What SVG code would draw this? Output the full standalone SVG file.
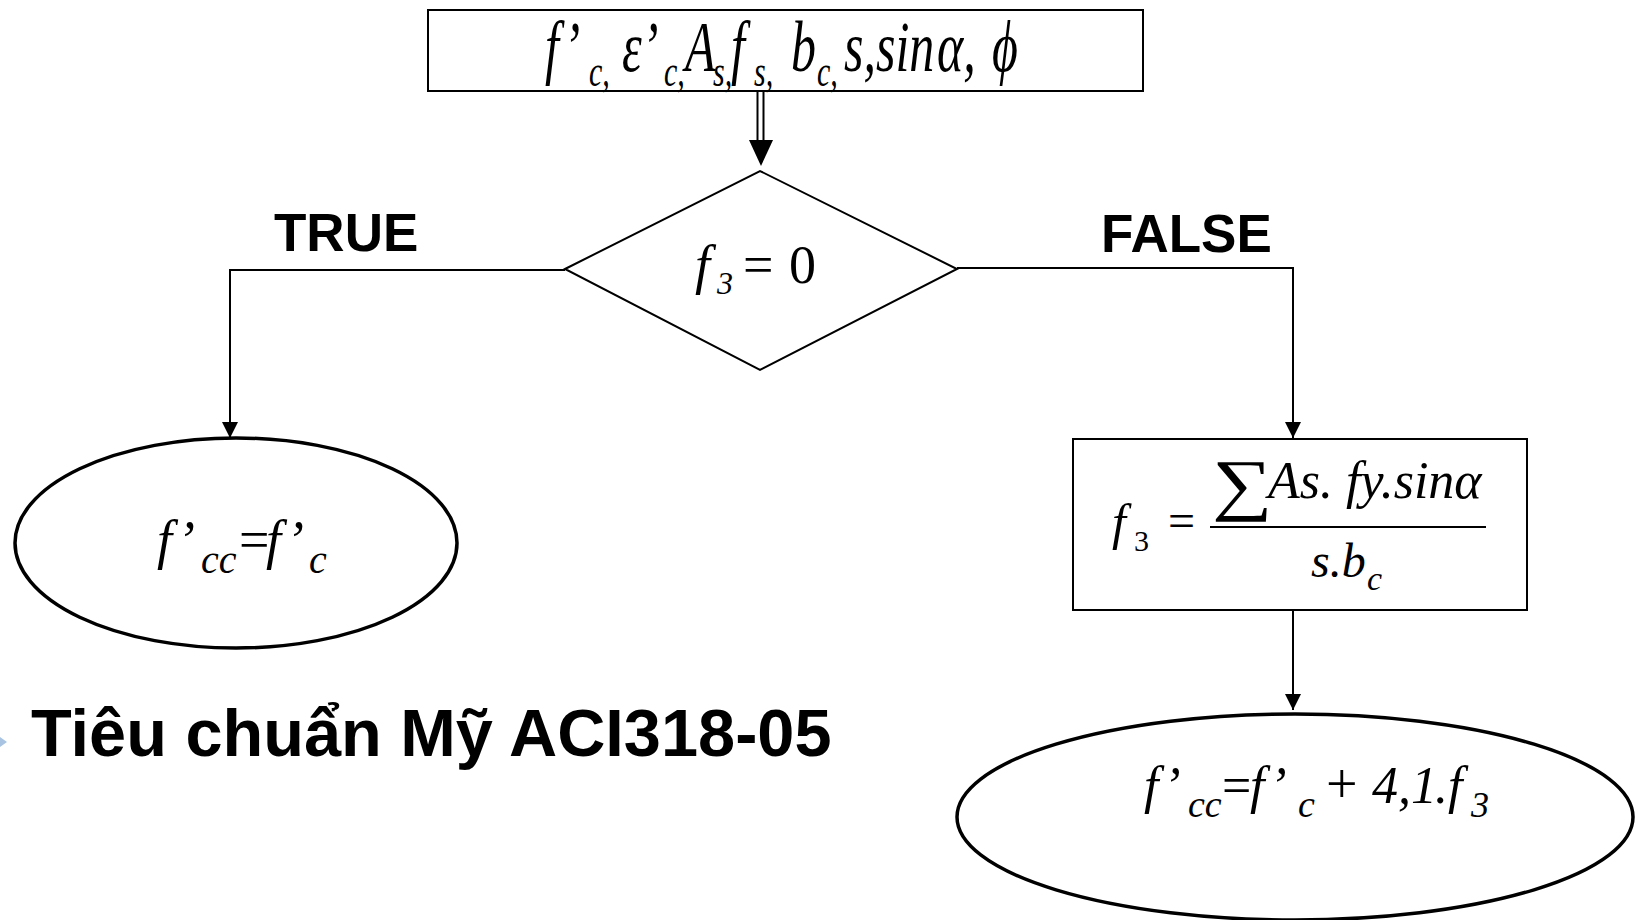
<svg xmlns="http://www.w3.org/2000/svg" width="1638" height="920" viewBox="0 0 1638 920">
  <style>
    .shape { fill: #ffffff; stroke: #000000; stroke-width: 2; }
    .oval { fill: #ffffff; stroke: #000000; stroke-width: 3.5; }
    .wire { fill: none; stroke: #000000; stroke-width: 2; }
    .math { font-family: "Liberation Serif", "Times New Roman", "DejaVu Serif", serif; font-style: italic; fill: #000000; }
    .rm { font-style: normal; }
    .label { font-family: "Liberation Sans", Arial, sans-serif; font-weight: bold; fill: #000000; }
  </style>
  <defs>
    <marker id="arrow" markerUnits="userSpaceOnUse" markerWidth="18" markerHeight="16" refX="16" refY="8" orient="auto">
      <path d="M0,0 L16,8 L0,16 Z" fill="#000000"/>
    </marker>
  </defs>

  <rect width="1638" height="920" fill="#ffffff"/>

  <!-- connectors -->
  <g id="connectors">
    <line x1="757.5" y1="91" x2="757.5" y2="142" class="wire"/>
    <line x1="763.5" y1="91" x2="763.5" y2="142" class="wire"/>
    <polygon points="749,140 773,140 761,166" fill="#000000"/>
    <polyline points="565,270 230,270 230,438" class="wire" marker-end="url(#arrow)"/>
    <polyline points="957,268 1293,268 1293,438" class="wire" marker-end="url(#arrow)"/>
    <line x1="1293" y1="610" x2="1293" y2="710" class="wire" marker-end="url(#arrow)"/>
  </g>

  <!-- input parameters (equation stretched vertically) -->
  <g id="inputs">
    <rect x="428" y="10" width="715" height="81" class="shape"/>
    <g transform="translate(0,71) scale(1,1.45)">
      <text class="math" font-size="50" y="0">
        <tspan x="545">f’</tspan><tspan x="589" dy="10" font-size="30">c,</tspan><tspan x="622" dy="-10">ε’</tspan><tspan x="664" dy="10" font-size="30">c,</tspan><tspan x="685" dy="-10">A</tspan><tspan x="713" dy="10" font-size="30">s,</tspan><tspan x="731" dy="-10">f</tspan><tspan x="754" dy="10" font-size="30">s,</tspan><tspan x="791" dy="-10">b</tspan><tspan x="817" dy="10" font-size="30">c,</tspan><tspan x="844" dy="-10">s,sin</tspan><tspan x="937">α,</tspan><tspan x="992">ϕ</tspan>
      </text>
    </g>
  </g>

  <!-- decision -->
  <g id="decision">
    <polygon points="565,269 760,171 957,269 760,370" class="shape"/>
    <text class="math" font-size="54" y="283"><tspan x="695">f</tspan><tspan x="717" dy="11" font-size="32">3</tspan><tspan x="743" dy="-11" class="rm">=</tspan><tspan x="789" class="rm">0</tspan></text>
  </g>

  <!-- branch labels -->
  <text id="label-true" class="label" font-size="53" x="274" y="251">TRUE</text>
  <text id="label-false" class="label" font-size="53" x="1101" y="252">FALSE</text>

  <!-- true branch result -->
  <g id="result-true">
    <ellipse cx="236" cy="543" rx="221" ry="105" class="oval"/>
    <text class="math" font-size="54" y="558"><tspan x="157">f’</tspan><tspan x="201" dy="15" font-size="40">cc</tspan><tspan x="239" dy="-15" class="rm">=</tspan><tspan x="266">f’</tspan><tspan x="309" dy="15" font-size="40">c</tspan></text>
  </g>

  <!-- f3 computation -->
  <g id="compute-f3">
    <rect x="1073" y="439" width="454" height="171" class="shape"/>
    <text class="math" font-size="50" y="539"><tspan x="1112">f</tspan><tspan x="1134" dy="12" font-size="30" class="rm">3</tspan></text>
    <text class="math rm" font-size="48" x="1168" y="537">=</text>
    <text class="math rm" font-size="68" transform="translate(1212,507) scale(1.25,1)">∑</text>
    <text class="math" font-size="52" x="1268" y="498">As. fy.sinα</text>
    <line x1="1210" y1="527" x2="1486" y2="527" stroke="#000000" stroke-width="2.2"/>
    <text class="math" font-size="48" y="577"><tspan x="1311">s.b</tspan><tspan x="1367" dy="13" font-size="34">c</tspan></text>
  </g>

  <!-- false branch result -->
  <g id="result-false">
    <ellipse cx="1295" cy="817" rx="338" ry="103" class="oval"/>
    <text class="math" font-size="52" y="803"><tspan x="1144">f’</tspan><tspan x="1188" dy="14" font-size="38">cc</tspan><tspan x="1222" dy="-14" class="rm">=</tspan><tspan x="1250">f’</tspan><tspan x="1298" dy="14" font-size="38">c</tspan><tspan x="1326" dy="-14" font-size="56" class="rm">+</tspan><tspan x="1372">4,</tspan><tspan x="1411">1</tspan><tspan x="1435">.</tspan><tspan x="1448">f</tspan><tspan x="1471" dy="14" font-size="36">3</tspan></text>
  </g>

  <!-- caption -->
  <g id="caption">
    <path d="M0,737 L7,742 L0,747 Z" fill="#a9c4e2"/>
    <text class="label" font-size="66.7" x="31" y="756">Tiêu chuẩn Mỹ ACI318-05</text>
  </g>
</svg>
